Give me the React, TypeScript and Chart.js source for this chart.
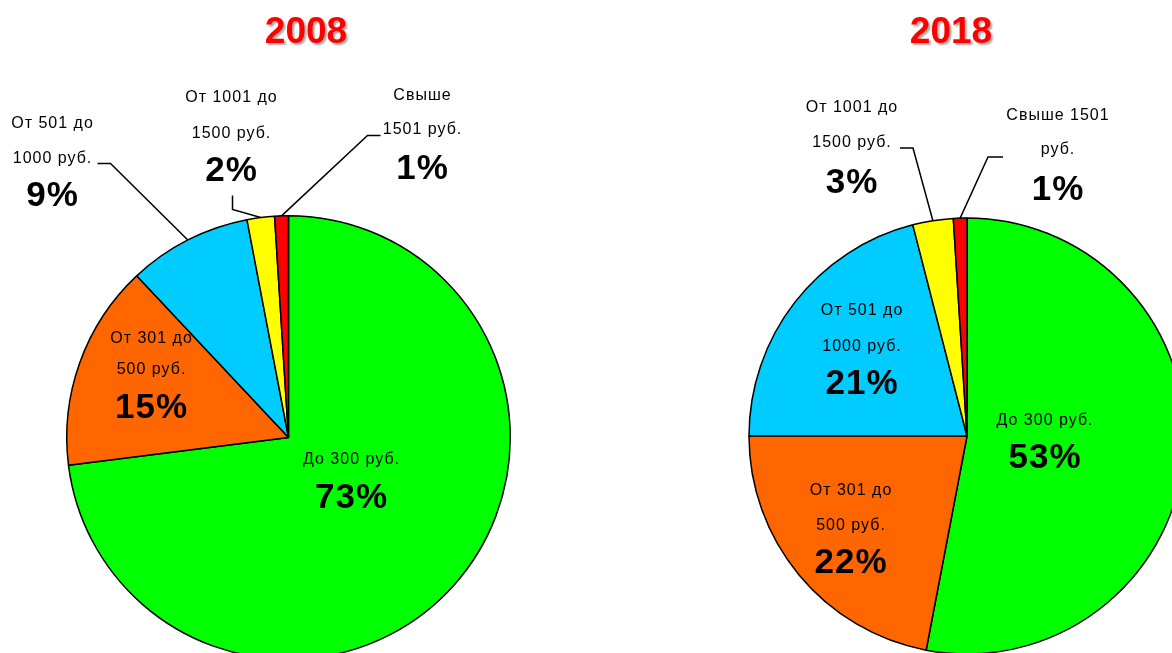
import React, { useEffect, useRef } from 'react';
import { Chart, registerables } from 'chart.js';

Chart.register(...registerables);

// ---------- data ----------
const categories = ['До 300 руб.', 'От 301 до 500 руб.', 'От 501 до 1000 руб.', 'От 1001 до 1500 руб.', 'Свыше 1501 руб.'];
const values2008 = [73, 15, 9, 2, 1];
const values2018 = [53, 22, 21, 3, 1];
const percentLabels2008 = ['73%', '15%', '9%', '2%', '1%'];
const percentLabels2018 = ['53%', '22%', '21%', '3%', '1%'];
const labelLines2008 = [['До 300 руб.'], ['От 301 до', '500 руб.'], ['От 501 до', '1000 руб.'], ['От 1001 до', '1500 руб.'], ['Свыше', '1501 руб.']];
const labelLines2018 = [['До 300 руб.'], ['От 301 до', '500 руб.'], ['От 501 до', '1000 руб.'], ['От 1001 до', '1500 руб.'], ['Свыше 1501', 'руб.']];
const sliceColors = ['#00FF00', '#FF6600', '#00CCFF', '#FFFF00', '#FF0000'];

// ---------- layout (offsets from pie centre) ----------
type LabelLayout = { dx: number; ys: number[]; pctY: number; leader?: [number, number][] };
const layout2008: LabelLayout[] = [
  { dx: 63, ys: [26], pctY: 70 },
  { dx: -137, ys: [-95, -64], pctY: -20 },
  { dx: -236, ys: [-310, -275], pctY: -232, leader: [[-191, -274], [-178, -274]] },
  { dx: -57, ys: [-336, -300], pctY: -257, leader: [[-56, -242], [-56, -228]] },
  { dx: 134, ys: [-338, -304], pctY: -259, leader: [[92, -302], [79, -302]] },
];
const layout2018: LabelLayout[] = [
  { dx: 78, ys: [-11], pctY: 32 },
  { dx: -116, ys: [59, 94], pctY: 137 },
  { dx: -105, ys: [-121, -85], pctY: -42 },
  { dx: -115, ys: [-324, -289], pctY: -243, leader: [[-67, -288], [-54, -288]] },
  { dx: 91, ys: [-316, -282], pctY: -236, leader: [[36, -279], [21, -279]] },
];

const FONT = '"Liberation Sans", Arial, sans-serif';

function makePlugin(title: string, titleX: number, lines: string[][], pcts: string[], layout: LabelLayout[]) {
  return {
    id: 'customLabels',
    afterDraw(chart: any) {
      const ctx: CanvasRenderingContext2D = chart.ctx;
      const meta = chart.getDatasetMeta(0);
      ctx.save();
      // title with shadow
      ctx.font = `bold 37px ${FONT}`;
      ctx.textAlign = 'center';
      ctx.textBaseline = 'alphabetic';
      ctx.shadowColor = 'rgba(0,0,0,0.35)';
      ctx.shadowOffsetX = 2;
      ctx.shadowOffsetY = 2;
      ctx.shadowBlur = 2;
      ctx.fillStyle = '#FF0000';
      ctx.fillText(title, titleX, 43);
      ctx.shadowColor = 'transparent';
      ctx.shadowOffsetX = 0;
      ctx.shadowOffsetY = 0;
      ctx.shadowBlur = 0;

      meta.data.forEach((arc: any, i: number) => {
        const p = arc.getProps(['x', 'y', 'startAngle', 'endAngle', 'outerRadius'], true);
        const L = layout[i];
        const cx = p.x;
        const cy = p.y;
        if (L.leader) {
          const mid = (p.startAngle + p.endAngle) / 2;
          const ex = cx + Math.cos(mid) * p.outerRadius;
          const ey = cy + Math.sin(mid) * p.outerRadius;
          ctx.beginPath();
          ctx.strokeStyle = '#000';
          ctx.lineWidth = 1.5;
          ctx.moveTo(cx + L.leader[0][0], cy + L.leader[0][1]);
          ctx.lineTo(cx + L.leader[1][0], cy + L.leader[1][1]);
          ctx.lineTo(ex, ey);
          ctx.stroke();
        }
        ctx.fillStyle = '#000';
        ctx.font = `16px ${FONT}`;
        (ctx as any).letterSpacing = '1px';
        lines[i].forEach((t, j) => ctx.fillText(t, cx + L.dx, cy + L.ys[j]));
        ctx.font = `bold 35px ${FONT}`;
        (ctx as any).letterSpacing = '1px';
        ctx.fillText(pcts[i], cx + L.dx, cy + L.pctY);
        (ctx as any).letterSpacing = '0px';
      });
      ctx.restore();
    },
  };
}

function PieCanvas(props: {
  values: number[]; title: string; titleX: number; lines: string[][]; pcts: string[]; layout: LabelLayout[];
  width: number; height: number; left: number; padding: { left: number; top: number; right: number; bottom: number };
}) {
  const ref = useRef<HTMLCanvasElement>(null);
  useEffect(() => {
    if (!ref.current) return;
    const chart = new Chart(ref.current, {
      type: 'pie',
      data: {
        labels: categories,
        datasets: [{
          data: props.values,
          backgroundColor: sliceColors,
          borderColor: '#000000',
          borderWidth: 1.5,
        }],
      },
      options: {
        responsive: false,
        animation: false,
        layout: { padding: props.padding },
        plugins: { legend: { display: false }, tooltip: { enabled: false }, title: { display: false } },
      },
      plugins: [makePlugin(props.title, props.titleX, props.lines, props.pcts, props.layout)],
    });
    return () => chart.destroy();
  }, []);
  return (
    <canvas
      ref={ref}
      width={props.width}
      height={props.height}
      style={{ position: 'absolute', left: props.left, top: 0, width: props.width, height: props.height }}
    />
  );
}

export default function App() {
  return (
    <div style={{ position: 'fixed', left: 0, top: 0, width: 1172, height: 653, overflow: 'hidden', background: '#fff' }}>
      <PieCanvas
        values={values2008}
        title="2008"
        titleX={306}
        lines={labelLines2008}
        pcts={percentLabels2008}
        layout={layout2008}
        width={586}
        height={700}
        left={0}
        padding={{ left: 66, top: 215, right: 75, bottom: 40 }}
      />
      <PieCanvas
        values={values2018}
        title="2018"
        titleX={365}
        lines={labelLines2018}
        pcts={percentLabels2018}
        layout={layout2018}
        width={660}
        height={700}
        left={586}
        padding={{ left: 162.25, top: 217.25, right: 60.25, bottom: 45.25 }}
      />
    </div>
  );
}
